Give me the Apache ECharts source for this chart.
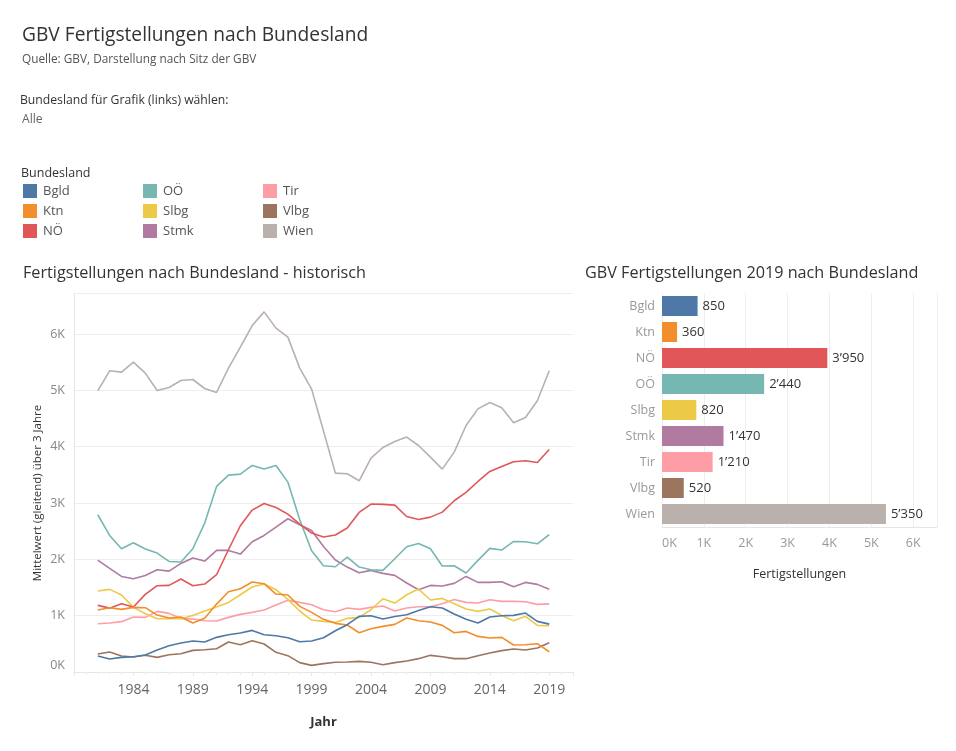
<!DOCTYPE html>
<html>
<head>
<meta charset="utf-8">
<script src="https://cdn.jsdelivr.net/npm/echarts@6/dist/echarts.min.js"></script>
<style>
html,body{margin:0;padding:0;background:#fff;}
#c{width:956px;height:751px;}
</style>
</head>
<body>
<div id="c"></div>
<script>
var years = [1981,1982,1983,1984,1985,1986,1987,1988,1989,1990,1991,1992,1993,1994,1995,1996,1997,1998,1999,2000,2001,2002,2003,2004,2005,2006,2007,2008,2009,2010,2011,2012,2013,2014,2015,2016,2017,2018,2019];
var states = ['Bgld','Ktn','NÖ','OÖ','Slbg','Stmk','Tir','Vlbg','Wien'];
var colors = ['#4e79a7','#f28e2b','#e15759','#76b7b2','#edc948','#b07aa1','#ff9da7','#9c755f','#bab0ac'];

var bgld = [284,231,260,272,301,390,467,515,550,532,615,662,692,739,662,645,609,538,550,609,733,840,987,999,941,987,1017,1094,1159,1136,1029,935,870,976,999,1005,1047,899,850];
var ktn  = [1100,1142,1112,1147,1142,1011,958,976,870,953,1206,1425,1479,1597,1568,1384,1367,1165,1059,935,864,835,697,768,810,846,958,911,888,828,697,721,632,603,615,479,485,503,360];
var noe  = [1183,1134,1212,1153,1378,1532,1538,1651,1532,1562,1727,2171,2597,2875,2993,2922,2804,2627,2467,2396,2432,2556,2833,2982,2976,2964,2762,2709,2750,2839,3041,3189,3383,3561,3650,3733,3751,3721,3950];
var ooe  = [2792,2425,2189,2295,2183,2112,1963,1952,2189,2645,3295,3496,3513,3668,3603,3668,3372,2703,2153,1887,1869,2041,1863,1816,1805,2011,2224,2283,2189,1881,1887,1757,1982,2195,2165,2318,2312,2277,2440];
var slbg = [1438,1467,1367,1147,1035,946,946,946,1005,1083,1153,1236,1372,1509,1562,1461,1289,1083,923,899,881,953,970,1106,1301,1224,1372,1473,1278,1307,1212,1118,1077,1118,1005,911,988,828,820];
var stmk = [1988,1839,1697,1656,1715,1816,1792,1928,2023,1970,2159,2159,2094,2313,2425,2573,2721,2615,2514,2230,1988,1863,1763,1804,1751,1716,1580,1461,1538,1526,1574,1697,1591,1591,1603,1514,1591,1556,1470];
var tir  = [858,870,894,976,970,1077,1041,953,941,911,905,970,1023,1059,1100,1189,1272,1236,1195,1106,1071,1136,1112,1147,1171,1083,1136,1159,1159,1212,1289,1236,1224,1284,1254,1254,1248,1201,1210];
var vlbg = [319,355,284,266,296,260,307,325,384,396,414,532,485,556,497,349,290,166,118,148,172,178,189,172,130,166,195,237,296,272,237,237,290,337,379,408,390,426,520];
var wien = [4993,5348,5325,5502,5307,5000,5052,5176,5194,5034,4963,5396,5769,6152,6395,6106,5946,5396,5023,4278,3532,3520,3396,3798,3987,4094,4171,4022,3816,3603,3905,4377,4673,4786,4691,4425,4520,4816,5350];

var bars2019 = [850,360,3950,2440,820,1470,1210,520,5350];

var lineData = [bgld,ktn,noe,ooe,slbg,stmk,tir,vlbg,wien];
var FONT = 'Open Sans, sans-serif';

function kfmt(v){ return (v/1000) + 'K'; }
function sep(v){ var s = String(v); return s.length > 3 ? s.slice(0, s.length-3) + '\u2019' + s.slice(s.length-3) : s; }

var lineSeries = states.map(function(name, i){
  return {
    name: name, type: 'line', xAxisIndex: 0, yAxisIndex: 0,
    data: years.map(function(y, j){ return [y, lineData[i][j]]; }),
    showSymbol: false, symbol: 'none',
    lineStyle: {width: 1.6, color: colors[i]},
    itemStyle: {color: colors[i]},
    z: 10 - i
  };
});

var barSeries = {
  type: 'bar', xAxisIndex: 1, yAxisIndex: 1,
  data: bars2019.map(function(v, i){ return {value: v, itemStyle: {color: colors[i]}}; }),
  barWidth: 20,
  label: {show: true, position: 'right', distance: 5, color: '#333', fontSize: 13, fontFamily: FONT,
          formatter: function(p){ return sep(p.value); }}
};

function legendCol(left, names){
  return {
    orient: 'vertical', left: left, top: 184, padding: 0, itemWidth: 14, itemHeight: 14, itemGap: 6,
    icon: 'rect', data: names, selectedMode: false,
    textStyle: {color: '#555', fontSize: 13, fontFamily: FONT, padding: [0,0,0,1]}
  };
}

function ttl(text, left, top, size, color){
  return {text: text, left: left, top: top, padding: 0,
          textStyle: {fontSize: size, fontWeight: 'normal', color: color, fontFamily: FONT}};
}

var option = {
  animation: false,
  backgroundColor: '#fff',
  title: [
    ttl('GBV Fertigstellungen nach Bundesland', 22, 26, 19.2, '#333'),
    ttl('Quelle: GBV, Darstellung nach Sitz der GBV', 22, 54, 11.8, '#555'),
    ttl('Bundesland für Grafik (links) wählen:', 20, 95, 12.2, '#333'),
    ttl('Alle', 22, 114, 12.2, '#666'),
    ttl('Bundesland', 21, 167, 12.5, '#333'),
    ttl('Fertigstellungen nach Bundesland - historisch', 23, 265, 16.2, '#333'),
    ttl('GBV Fertigstellungen 2019 nach Bundesland', 585, 265, 16.2, '#333')
  ],
  legend: [
    legendCol(23, ['Bgld','Ktn','NÖ']),
    legendCol(143, ['OÖ','Slbg','Stmk']),
    legendCol(263, ['Tir','Vlbg','Wien'])
  ],
  graphic: [
    {type: 'text', x: 38, y: 493, rotation: Math.PI/2,
     style: {text: 'Mittelwert (gleitend) über 3 Jahre', fill: '#333', font: '11.5px ' + FONT, textAlign: 'center', textVerticalAlign: 'middle'}}
  ],
  grid: [
    {left: 74, top: 293, width: 499, height: 379},
    {left: 662, top: 293, width: 275, height: 234}
  ],
  xAxis: [
    {type: 'value', gridIndex: 0, min: 1979, max: 2021, interval: 5,
     name: 'Jahr', nameLocation: 'middle', nameGap: 44,
     nameTextStyle: {fontWeight: 'bold', color: '#333', fontSize: 13, fontFamily: FONT},
     axisLine: {show: true, lineStyle: {color: '#e6e6e6'}},
     axisTick: {show: true, length: 4, lineStyle: {color: '#e6e6e6'}},
     minorTick: {show: true, splitNumber: 5, length: 3, lineStyle: {color: '#ececec'}},
     splitLine: {show: false},
     axisLabel: {showMinLabel: false, showMaxLabel: false, color: '#666', fontSize: 14, fontFamily: FONT, margin: 11,
                 formatter: function(v){ return String(v); }}},
    {type: 'value', gridIndex: 1, min: 0, max: 6570, interval: 1000,
     name: 'Fertigstellungen', nameLocation: 'middle', nameGap: 41,
     nameTextStyle: {color: '#333', fontSize: 12.5, fontFamily: FONT},
     axisLine: {show: true, lineStyle: {color: '#e6e6e6'}},
     axisTick: {show: false},
     splitLine: {show: true, lineStyle: {color: '#eeeeee'}},
     axisLabel: {showMaxLabel: false, alignMinLabel: 'left', color: '#999', fontSize: 12.5, fontFamily: FONT, margin: 10, formatter: kfmt}}
  ],
  yAxis: [
    {type: 'value', gridIndex: 0, min: 0, max: 6730, interval: 1000,
     axisLine: {show: true, lineStyle: {color: '#e6e6e6'}},
     axisTick: {show: false},
     splitLine: {show: true, lineStyle: {color: '#eeeeee'}},
     axisLabel: {showMaxLabel: false, verticalAlignMinLabel: 'bottom', color: '#888', fontSize: 12.5, fontFamily: FONT, margin: 9, formatter: kfmt}},
    {type: 'category', gridIndex: 1, data: states, inverse: true,
     axisLine: {show: true, lineStyle: {color: '#eeeeee'}},
     axisTick: {show: false},
     axisLabel: {color: '#999', fontSize: 12.5, fontFamily: FONT, margin: 7}}
  ],
  series: lineSeries.concat([barSeries])
};

var chart = echarts.init(document.getElementById('c'));
chart.setOption(option);
</script>
</body>
</html>
